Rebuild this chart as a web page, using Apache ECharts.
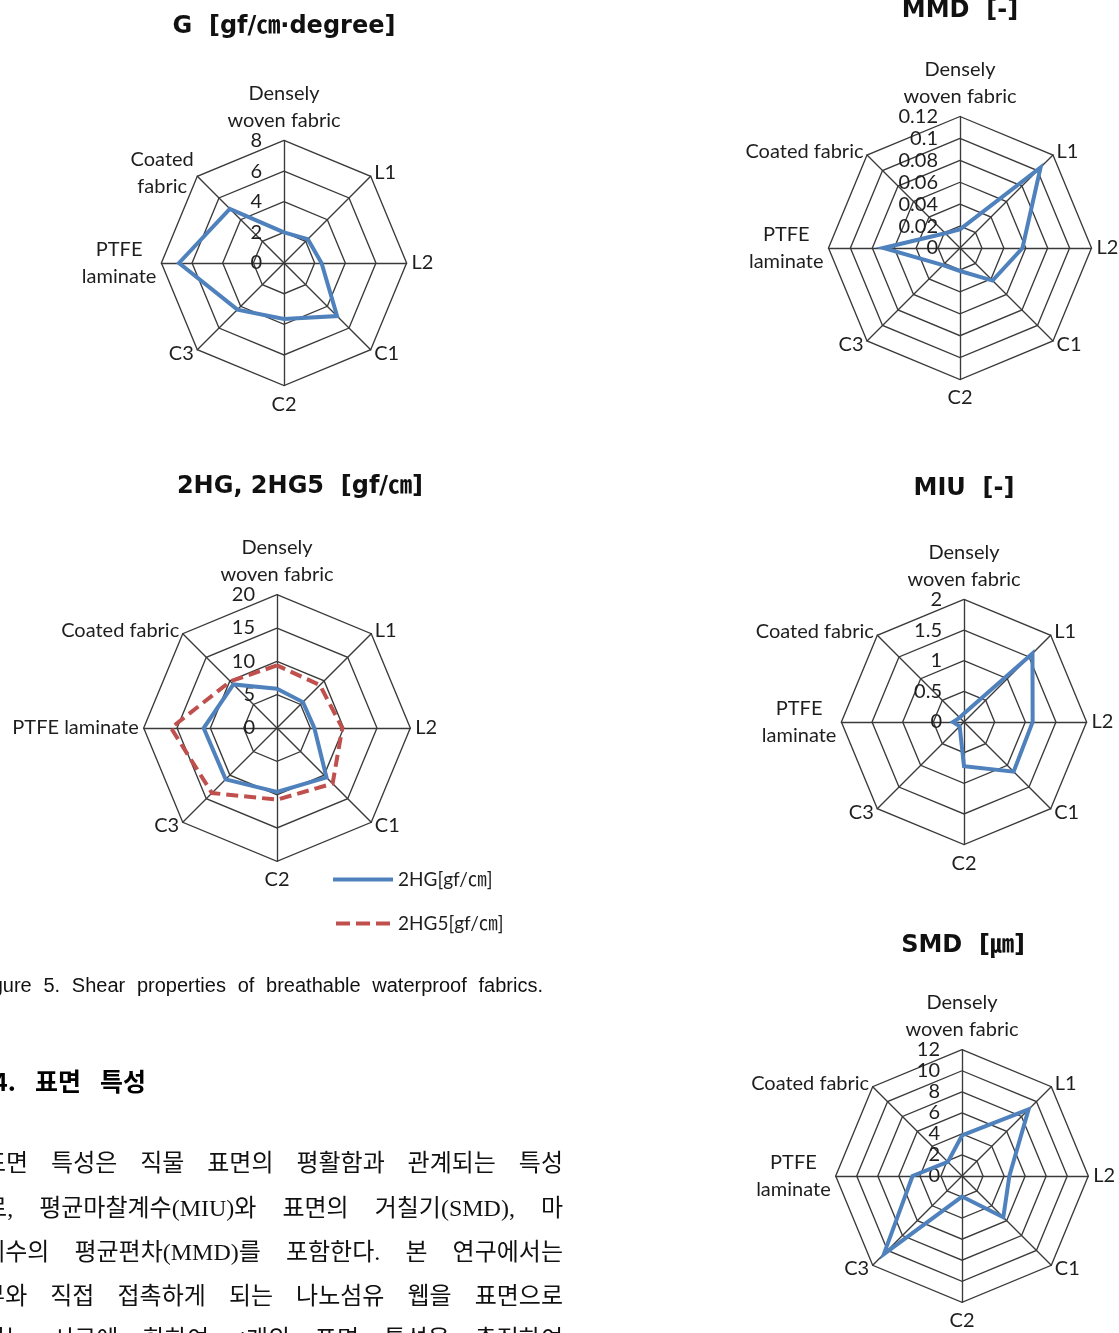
<!DOCTYPE html>
<html>
<head>
<meta charset="utf-8">
<script src="https://cdn.jsdelivr.net/npm/echarts@6/dist/echarts.min.js"></script>
<style>
  html, body { margin: 0; padding: 0; background: #fff; }
  #chart { width: 1119px; height: 1333px; }
</style>
</head>
<body>
<div id="chart"></div>
<script>
// Fabric categories, clockwise from the top of each radar
const categories = ['Densely woven fabric', 'L1', 'L2', 'C1', 'C2', 'C3', 'PTFE laminate', 'Coated fabric'];

// Shear stiffness G [gf/cm·degree]
const ticksG = [0, 2, 4, 6, 8];
const valuesG = [2.0, 2.2, 2.45, 4.9, 3.65, 4.3, 6.85, 5.0];

// Mean deviation of friction coefficient MMD [-]
const ticksMMD = [0, 0.02, 0.04, 0.06, 0.08, 0.1, 0.12];
const valuesMMD = [0.017, 0.104, 0.057, 0.042, 0.021, 0.022, 0.070, 0.019];

// Shear hysteresis 2HG, 2HG5 [gf/cm]
const ticks2HG = [0, 5, 10, 15, 20];
const values2HG = [5.9, 5.5, 5.6, 10.5, 9.6, 10.9, 11.0, 9.25];
const values2HG5 = [9.4, 9.1, 9.8, 11.8, 10.75, 13.8, 15.9, 9.9];

// Mean friction coefficient MIU [-]
const ticksMIU = [0, 0.5, 1, 1.5, 2];
const valuesMIU = [0.14, 1.58, 1.12, 1.145, 0.72, 0.1, 0.18, 0.1];

// Surface roughness SMD [µm]
const ticksSMD = [0, 2, 4, 6, 8, 10, 12];
const valuesSMD = [3.85, 8.95, 4.5, 5.55, 1.95, 10.5, 4.7, 1.9];

// Page text
const captionText = 'Figure 5. Shear properties of breathable waterproof fabrics.';
const headingText = '4. 표면 특성';
const paragraphLines = [
  '표면 특성은 직물 표면의 평활함과 관계되는 특성',
  '으로, 평균마찰계수(MIU)와 표면의 거칠기(SMD), 마',
  '찰계수의 평균편차(MMD)를 포함한다. 본 연구에서는',
  '피부와 직접 접촉하게 되는 나노섬유 웹을 표면으로',
  '가지는 시료에 한하여 4개의 표면 특성을 측정하여'
];

// ---- styling ----
const INK = '#1e1e1e';
const GRID = '#3a3a3a';
const BLUE = '#4f81bd';
const RED = '#c0504d';
const LABEL_FONT = "Lato, 'Noto Sans CJK KR', sans-serif";
const TITLE_FONT = "'DejaVu Sans', 'Noto Sans CJK KR', sans-serif";

const panels = [
  { title: 'G  [gf/㎝·degree]', titlePos: [284, 27], center: [284, 263], radius: 122.6,
    ticks: ticksG, wrap: ['Densely woven fabric', 'Coated fabric', 'PTFE laminate'],
    series: [{ name: 'G', values: valuesG, color: BLUE }] },
  { title: 'MMD  [-]', titlePos: [960, 11], center: [960, 248], radius: 131.5,
    ticks: ticksMMD, wrap: ['Densely woven fabric', 'PTFE laminate'],
    series: [{ name: 'MMD', values: valuesMMD, color: BLUE }] },
  { title: '2HG, 2HG5  [gf/㎝]', titlePos: [300, 487], center: [277, 728], radius: 133.3,
    ticks: ticks2HG, wrap: ['Densely woven fabric'],
    series: [{ name: '2HG[gf/㎝]', values: values2HG, color: BLUE },
             { name: '2HG5[gf/㎝]', values: values2HG5, color: RED, dashed: true }] },
  { title: 'MIU  [-]', titlePos: [964, 489], center: [964, 722], radius: 122.6,
    ticks: ticksMIU, wrap: ['Densely woven fabric', 'PTFE laminate'],
    series: [{ name: 'MIU', values: valuesMIU, color: BLUE }] },
  { title: 'SMD  [㎛]', titlePos: [963, 946], center: [962, 1176], radius: 126.3,
    ticks: ticksSMD, wrap: ['Densely woven fabric', 'PTFE laminate'],
    series: [{ name: 'SMD', values: valuesSMD, color: BLUE }] }
];

// ECharts lays radar indicators out counter-clockwise; this maps to the clockwise order above
const ccw = [0, 7, 6, 5, 4, 3, 2, 1];
const fmtTick = v => String(+(+v).toFixed(2));

function buildRadar(p) {
  const max = p.ticks[p.ticks.length - 1];
  return {
    center: p.center,
    radius: p.radius,
    startAngle: 90,
    shape: 'polygon',
    splitNumber: p.ticks.length - 1,
    nameGap: 5,
    axisName: {
      color: INK, fontFamily: LABEL_FONT, fontSize: 20,
      formatter: n => n.split('\n').map(s => '{c|' + s + '}').join('\n'),
      rich: { c: { align: 'center', color: INK, fontFamily: LABEL_FONT, fontSize: 20, lineHeight: 27 } }
    },
    indicator: ccw.map((k, i) => {
      const cat = categories[k];
      const ind = { name: p.wrap.includes(cat) ? cat.replace(' ', '\n') : cat, min: 0, max: max };
      if (i === 0) {
        ind.axisLabel = { show: true, margin: 22, color: INK, fontFamily: LABEL_FONT, fontSize: 20, formatter: fmtTick };
      }
      return ind;
    }),
    axisLine: { lineStyle: { color: GRID, width: 1.35 } },
    splitLine: { lineStyle: { color: GRID, width: 1.35 } },
    splitArea: { show: false },
    axisTick: { show: false },
    axisLabel: { show: false }
  };
}

const series = [];
panels.forEach((p, ri) => {
  p.series.forEach(s => {
    series.push({
      type: 'radar',
      radarIndex: ri,
      name: s.name,
      symbol: 'none',
      silent: true,
      z: s.dashed ? 3 : 2,
      lineStyle: { color: s.color, width: 4, type: s.dashed ? [12, 6] : 'solid', join: 'miter' },
      itemStyle: { color: s.color },
      data: [{ name: s.name, value: ccw.map(k => s.values[k]) }]
    });
  });
});

// ---- text layout helpers ----
const measureCtx = document.createElement('canvas').getContext('2d');
function textWidth(str, font) { measureCtx.font = font; return measureCtx.measureText(str).width; }

// Spread the words of one line evenly between x0 and x1 (justified setting)
function justified(text, x0, x1, y, font, fill) {
  const words = text.split(' ');
  const widths = words.map(w => textWidth(w, font));
  const total = widths.reduce((a, b) => a + b, 0);
  const gap = words.length > 1 ? (x1 - x0 - total) / (words.length - 1) : 0;
  let x = x0;
  return words.map((w, i) => {
    const el = { type: 'text', x: x, y: y, silent: true,
      style: { text: w, font: font, fill: fill, align: 'left', verticalAlign: 'middle' } };
    x += widths[i] + gap;
    return el;
  });
}

const graphics = [];
panels.forEach(p => {
  graphics.push({ type: 'text', x: p.titlePos[0], y: p.titlePos[1], silent: true,
    style: { text: p.title, font: "bold 24px " + TITLE_FONT, fill: '#111', align: 'center', verticalAlign: 'middle' } });
});

const captionFont = "20px 'Liberation Sans', Arial, sans-serif";
graphics.push(...justified(captionText, -25, 543, 986, captionFont, '#111'));

const headingFont = "bold 25px 'Noto Sans CJK KR', sans-serif";
graphics.push(...justified(headingText, -7, 146, 1081, headingFont, '#000'));

const bodyFont = "24px 'Liberation Serif', 'Noto Sans CJK KR', serif";
const lineY = [1165, 1210, 1254, 1298, 1341];
const lineX0 = [-16, -37, -39, -39, -39];
paragraphLines.forEach((ln, i) => {
  graphics.push(...justified(ln, lineX0[i], 563, lineY[i], bodyFont, '#111'));
});

const chart = echarts.init(document.getElementById('chart'));
chart.setOption({
  backgroundColor: '#ffffff',
  animation: false,
  radar: panels.map(buildRadar),
  legend: {
    left: 333, top: 870, orient: 'vertical', padding: 0,
    itemWidth: 60, itemHeight: 4, itemGap: 25,
    selectedMode: false,
    textStyle: { color: INK, fontFamily: LABEL_FONT, fontSize: 19 },
    data: [
      { name: '2HG[gf/㎝]', icon: 'rect' },
      { name: '2HG5[gf/㎝]', icon: 'path://M0,0h14v4h-14zM20,0h14v4h-14zM40,0h14v4h-14z' }
    ]
  },
  series: series,
  graphic: graphics
});
</script>
</body>
</html>
